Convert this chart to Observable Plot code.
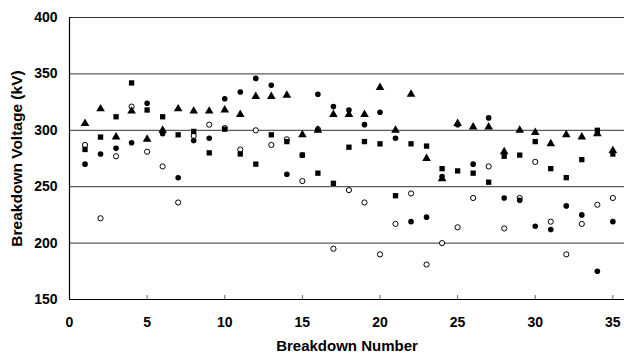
<!DOCTYPE html>
<html>
<head>
<meta charset="utf-8">
<script src="https://cdn.jsdelivr.net/npm/d3@7"></script>
<script src="https://cdn.jsdelivr.net/npm/@observablehq/plot@0.6"></script>
<style>
  html, body { margin: 0; padding: 0; background: #fff; }
  #chart { width: 624px; height: 356px; }
</style>
</head>
<body>
<div id="chart"></div>
<script>
const breakdownNumber = [1,2,3,4,5,6,7,8,9,10,11,12,13,14,15,16,17,18,19,20,21,22,23,24,25,26,27,28,29,30,31,32,33,34,35];
const filledCircle = [270,279,284,289,324,297,258,291,293,328,334,346,340,261,278,332,321,318,305,316,293,219,223,259,305,270,311,240,238,215,212,233,225,175,219];
const openCircle   = [287,222,277,321,281,268,236,295,305,302,283,300,287,292,255,301,195,247,236,190,217,244,181,200,214,240,268,213,240,272,219,190,217,234,240];
const filledSquare = [283,294,312,342,318,312,296,299,280,301,279,270,296,290,278,262,253,285,290,288,242,288,286,266,264,262,254,277,278,290,266,258,274,300,279];
const filledTriangle = [306,319,294,317,292,300,319,317,317,318,314,330,330,331,296,300,314,314,314,338,300,332,275,257,306,303,303,281,300,298,288,296,294,297,282];

const yTicks = [150,200,250,300,350,400];
const xTicks = [0,5,10,15,20,25,30,35];
const xLabel = "Breakdown Number";
const yLabel = "Breakdown Voltage (kV)";

const rows = (vals) => breakdownNumber.map((n, i) => ({n, v: vals[i]}));

const chart = Plot.plot({
  width: 624,
  height: 356,
  marginLeft: 69,
  marginRight: 0,
  marginTop: 17,
  marginBottom: 57,
  style: {fontFamily: "'Liberation Sans', Arial, sans-serif", fontSize: "14px", fontWeight: "bold", color: "#000", background: "#fff"},
  x: {domain: [0, 35.75]},
  y: {domain: [150, 400]},
  marks: [
    Plot.ruleY(yTicks.filter(d => d > 150), {stroke: "#333", strokeWidth: 1}),
    Plot.tickX(xTicks.filter(d => d > 0), {stroke: "#666", strokeWidth: 1, insetTop: 278}),
    Plot.ruleY([150], {stroke: "#000", strokeWidth: 1.2}),
    Plot.ruleX([0], {stroke: "#000", strokeWidth: 1.2}),
    Plot.axisX({ticks: xTicks, tickSize: 0, tickPadding: 18, label: null, fontWeight: "bold"}),
    Plot.axisY({ticks: yTicks, tickSize: 0, tickPadding: 12, label: null, fontWeight: "bold"}),
    Plot.text([xLabel], {frameAnchor: "bottom", textAnchor: "middle", dy: 51, text: d => d, fontWeight: "bold", fontSize: 15}),
    Plot.text([yLabel], {frameAnchor: "left", textAnchor: "middle", dx: -52, rotate: -90, text: d => d, fontWeight: "bold", fontSize: 15.5}),
    Plot.dot(rows(openCircle), {x: "n", y: "v", symbol: "circle", r: 2.6, fill: "#fff", stroke: "#000", strokeWidth: 1}),
    Plot.dot(rows(filledTriangle), {x: "n", y: "v", symbol: "triangle", r: 3.2, fill: "#000", stroke: "none"}),
    Plot.dot(rows(filledCircle), {x: "n", y: "v", symbol: "circle", r: 2.8, fill: "#000", stroke: "none"}),
    Plot.dot(rows(filledSquare), {x: "n", y: "v", symbol: "square", r: 3.0, fill: "#000", stroke: "none"})
  ]
});
document.getElementById("chart").appendChild(chart);
</script>
</body>
</html>
